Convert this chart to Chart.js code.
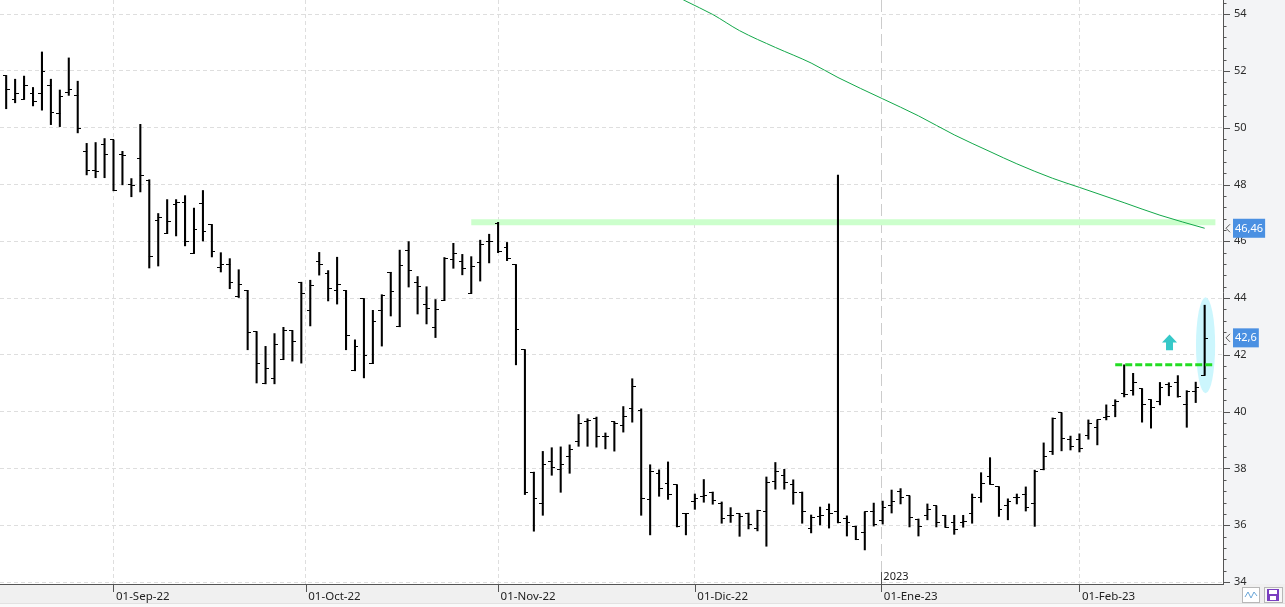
<!DOCTYPE html>
<html>
<head>
<meta charset="utf-8">
<title>Cotización diaria</title>
<script src="https://cdn.jsdelivr.net/npm/chart.js@4.4.1/dist/chart.umd.min.js"></script>
<style>
    html, body { margin: 0; padding: 0; background: #fff; overflow: hidden; }
    #wrap { width: 1285px; height: 607px; }
</style>
</head>
<body>
<div id="wrap"><canvas id="myChart" width="1285" height="607"></canvas></div>
<script>
// one entry per trading session (index 0 = mid Aug 22 ... 134 = 21 Feb 23)
var openP = [
    51.84, 50.99, 51.00, 51.21, 51.21, 51.49, 50.51, 51.25, 51.14, 49.17,
    48.50, 49.41, 49.57, 49.06, 48.00, 48.92, 48.13, 46.73, 46.27, 47.30,
    47.37, 45.57, 47.33, 46.59, 45.07, 45.18, 44.04, 44.27, 42.82, 40.98,
    41.16, 41.83, 42.86, 44.56, 43.57, 45.29, 44.85, 44.27, 44.27, 41.44,
    43.98, 41.69, 43.57, 44.91, 42.99, 45.69, 44.55, 43.77, 42.96, 43.91,
    45.36, 45.29, 44.16, 45.25, 45.99, 46.63, 45.78, 45.18, 42.18, 37.87,
    36.75, 38.23, 37.98, 38.41, 38.94, 39.65, 39.75, 39.11, 39.64, 39.50,
    40.10, 40.03, 36.89, 37.81, 37.46, 37.42, 36.40, 36.83, 37.01, 37.14,
    36.75, 36.33, 36.40, 36.43, 35.87, 36.50, 37.53, 37.75, 37.42, 37.17,
    35.87, 36.29, 36.54, 36.47, 36.22, 35.97, 35.73, 36.50, 36.15, 36.71,
    37.18, 37.03, 36.19, 36.36, 36.68, 36.35, 36.11, 36.11, 36.40, 36.98,
    37.70, 37.35, 36.68, 36.96, 37.10, 36.78, 37.95, 38.58, 39.96, 39.01,
    39.01, 39.15, 39.43, 39.78, 40.21, 40.63, 40.74, 40.81, 40.42, 40.35,
    40.96, 41.01, 40.24, 40.71, 41.28
];
var highP = [
    51.84, 51.71, 51.82, 51.42, 52.67, 51.71, 51.33, 52.46, 51.64, 49.45,
    49.48, 49.62, 49.57, 49.17, 48.21, 50.12, 48.17, 46.98, 47.47, 47.47,
    47.61, 47.17, 47.79, 46.59, 45.60, 45.39, 45.00, 44.27, 42.82, 42.30,
    42.75, 42.97, 42.86, 44.56, 44.63, 45.61, 44.97, 45.44, 44.27, 42.53,
    43.98, 43.57, 44.12, 44.91, 45.69, 45.99, 44.76, 44.40, 43.95, 45.43,
    45.93, 45.54, 45.46, 46.04, 46.25, 46.67, 45.96, 45.18, 42.18, 37.87,
    38.60, 38.73, 38.76, 38.83, 39.90, 39.75, 39.81, 39.25, 39.64, 40.18,
    41.16, 40.10, 38.13, 37.95, 38.23, 37.42, 36.40, 37.10, 37.61, 37.17,
    36.82, 36.62, 36.40, 36.43, 36.53, 37.70, 38.21, 37.97, 37.60, 37.17,
    36.36, 36.64, 36.75, 48.33, 36.33, 35.97, 36.47, 36.78, 36.85, 37.24,
    37.29, 37.03, 36.22, 36.75, 36.68, 36.35, 36.35, 36.35, 37.10, 37.85,
    38.38, 37.35, 36.93, 37.10, 37.35, 37.94, 38.90, 39.78, 39.96, 39.14,
    39.22, 39.71, 39.71, 40.24, 40.42, 41.65, 41.35, 40.81, 40.42, 41.03,
    41.02, 41.27, 40.74, 41.04, 43.75
];
var lowP = [
    50.67, 50.88, 51.00, 50.77, 50.62, 50.11, 50.04, 51.14, 49.82, 48.34,
    48.24, 48.24, 47.78, 47.99, 47.57, 47.74, 45.06, 45.13, 46.27, 46.19,
    45.84, 45.57, 46.01, 45.45, 44.92, 44.33, 44.02, 42.18, 41.01, 40.98,
    40.98, 41.83, 41.78, 41.71, 43.02, 44.81, 43.90, 43.79, 42.18, 41.44,
    41.19, 41.69, 42.31, 43.37, 42.99, 44.39, 43.44, 43.09, 42.61, 43.91,
    45.05, 44.82, 44.16, 44.60, 45.24, 45.60, 45.32, 41.65, 37.08, 35.79,
    36.35, 37.76, 37.16, 37.83, 38.78, 38.78, 38.75, 38.69, 38.61, 39.28,
    39.63, 36.35, 35.66, 37.02, 36.91, 35.94, 35.66, 36.56, 36.81, 36.74,
    36.07, 36.10, 35.61, 35.87, 35.80, 35.26, 37.27, 37.27, 36.74, 36.07,
    35.73, 36.01, 35.90, 36.08, 35.62, 35.49, 35.13, 35.97, 36.04, 36.43,
    36.75, 35.94, 35.62, 36.19, 35.94, 35.93, 35.68, 35.93, 36.07, 36.81,
    37.44, 36.31, 36.19, 36.75, 36.50, 35.96, 37.95, 38.49, 38.62, 38.65,
    38.58, 39.03, 38.83, 39.71, 39.82, 40.52, 40.58, 39.63, 39.42, 40.24,
    40.56, 40.51, 39.45, 40.32, 41.28
];
var closeP = [
    51.35, 51.21, 51.49, 50.93, 51.99, 50.55, 51.11, 51.35, 49.97, 48.50,
    48.46, 49.06, 47.78, 49.02, 47.97, 48.32, 45.46, 46.84, 46.70, 47.37,
    45.99, 46.41, 46.34, 45.64, 45.18, 44.55, 44.49, 42.78, 41.69, 41.51,
    42.36, 42.85, 42.46, 44.16, 44.44, 45.18, 44.33, 44.47, 42.68, 42.30,
    41.97, 43.17, 44.09, 44.24, 45.14, 44.97, 44.40, 43.63, 43.59, 45.39,
    45.57, 45.04, 45.11, 45.89, 45.99, 45.64, 45.39, 42.89, 37.16, 36.93,
    38.13, 38.05, 38.13, 38.65, 39.57, 39.69, 39.12, 39.11, 39.57, 39.82,
    40.88, 36.93, 37.91, 37.31, 37.07, 35.94, 36.40, 36.95, 37.04, 36.86,
    36.22, 36.33, 36.29, 36.04, 36.53, 37.49, 37.91, 37.49, 37.17, 36.47,
    36.26, 36.33, 36.43, 36.08, 36.08, 35.51, 36.47, 36.04, 36.64, 36.85,
    36.98, 36.26, 35.95, 36.57, 36.08, 35.93, 35.86, 36.14, 36.98, 37.46,
    37.44, 36.54, 36.82, 36.96, 36.61, 37.90, 38.43, 39.76, 39.04, 38.76,
    38.72, 39.57, 39.71, 39.83, 40.35, 40.60, 41.01, 40.26, 40.14, 40.86,
    40.90, 40.52, 40.72, 40.86, 42.59
];

// slow moving average, read at some sessions
var maIndex = [74, 76, 79, 82, 86, 90, 93, 98, 102, 106, 110, 113, 117, 120, 125, 129, 134];
var maValues = [54.80, 54.46, 53.99, 53.42, 52.83, 52.28, 51.77, 51.02, 50.42, 49.75, 49.16, 48.73, 48.22, 47.90, 47.36, 46.92, 46.46];

// axis ticks
var monthTicks = [12, 33.5, 55, 77, 97.85, 120];
var monthLabels = ['01-Sep-22', '01-Oct-22', '01-Nov-22', '01-Dic-22', '01-Ene-23', '01-Feb-23'];
var yearTick = 97.85;
var yearLabel = '2023';
var yTicks = [34, 36, 38, 40, 42, 44, 46, 48, 50, 52, 54];

// drawn studies
var resistance = 46.67;
var resistanceRange = [52, 135.2];
var breakout = 41.65;
var breakoutRange = [124, 135.05];
var arrowIndex = 130.07;
var arrowRange = [42.16, 42.72];
var circleIndex = [133.03, 135.17];
var circleRange = [40.65, 44.03];
var lastClose = 42.6;
var lastMa = 46.46;

function makeTick(side) {
    var c = document.createElement('canvas');
    c.width = 7;
    c.height = 1;
    var g = c.getContext('2d');
    g.fillStyle = '#000';
    if (side === 'left') {
        g.fillRect(0, 0, 4, 1);
    } else {
        g.fillRect(3, 0, 4, 1);
    }
    return c;
}

var hlData = [], openData = [], closeData = [], maData = [];
for (var i = 0; i < openP.length; i++) {
    hlData.push({x: i, y: [lowP[i], highP[i]]});
    openData.push({x: i, y: openP[i]});
    closeData.push({x: i, y: closeP[i]});
}
for (var j = 0; j < maIndex.length; j++) {
    maData.push({x: maIndex[j], y: maValues[j]});
}

var FONT = 'Noto Sans';
Chart.defaults.font.family = FONT;

var backPlugin = {
    id: 'back',
    beforeDraw: function(chart) {
        var ctx = chart.ctx, a = chart.chartArea;
        ctx.save();
        ctx.fillStyle = '#ffffff';
        ctx.fillRect(0, 0, chart.width, chart.height);
        ctx.fillStyle = '#f3f4f6';
        ctx.fillRect(a.right, 0, chart.width - a.right, a.bottom);
        ctx.fillStyle = '#f0f0f0';
        ctx.fillRect(0, a.bottom, chart.width, chart.height - a.bottom);
        ctx.fillStyle = '#fafafa';
        ctx.fillRect(0, 603, chart.width, 4);
        ctx.fillStyle = '#e2e2e2';
        ctx.fillRect(0, 603, chart.width, 1);
        ctx.restore();
    },
    beforeDatasetsDraw: function(chart) {
        var ctx = chart.ctx, x = chart.scales.x, y = chart.scales.y;
        var x1 = x.getPixelForValue(circleIndex[0]), x2 = x.getPixelForValue(circleIndex[1]);
        var y1 = y.getPixelForValue(circleRange[1]), y2 = y.getPixelForValue(circleRange[0]);
        ctx.save();
        ctx.fillStyle = '#ccf6fd';
        ctx.beginPath();
        ctx.ellipse((x1 + x2) / 2, (y1 + y2) / 2, (x2 - x1) / 2, (y2 - y1) / 2, 0, 0, Math.PI * 2);
        ctx.fill();
        ctx.restore();
    },
    afterDatasetsDraw: function(chart) {
        var ctx = chart.ctx, x = chart.scales.x, y = chart.scales.y;
        var cx = x.getPixelForValue(arrowIndex);
        var top = y.getPixelForValue(arrowRange[1]);
        var bottom = y.getPixelForValue(arrowRange[0]);
        var mid = (top + bottom) / 2;
        ctx.save();
        ctx.fillStyle = '#36c8c8';
        ctx.beginPath();
        ctx.moveTo(cx, top);
        ctx.lineTo(cx + 7.5, mid);
        ctx.lineTo(cx + 3.5, mid);
        ctx.lineTo(cx + 3.5, bottom);
        ctx.lineTo(cx - 3.5, bottom);
        ctx.lineTo(cx - 3.5, mid);
        ctx.lineTo(cx - 7.5, mid);
        ctx.closePath();
        ctx.fill();
        ctx.restore();
    },
    afterDraw: function(chart) {
        var ctx = chart.ctx, a = chart.chartArea, x = chart.scales.x, y = chart.scales.y;
        ctx.save();
        // hide what falls below the plot in the price column
        ctx.fillStyle = '#f0f0f0';
        ctx.fillRect(a.right + 1, a.bottom + 1, chart.width - a.right, 602 - a.bottom);

        ctx.strokeStyle = '#555';
        ctx.lineWidth = 1;
        ctx.beginPath();
        for (var k = 0; k <= 51; k++) {
            var v = 34 + k * 0.4;
            var py = Math.round(y.getPixelForValue(v)) + 0.5;
            if (py > a.bottom) continue;
            var len = (k % 5 === 0) ? 7 : 3.5;
            ctx.moveTo(a.right, py);
            ctx.lineTo(a.right + len, py);
        }
        for (var m = 0; m < monthTicks.length; m++) {
            var px = Math.round(x.getPixelForValue(monthTicks[m])) + 0.5;
            var from = monthTicks[m] === yearTick ? a.bottom - 12 : a.bottom;
            ctx.moveTo(px, from);
            ctx.lineTo(px, a.bottom + 8);
        }
        ctx.stroke();

        ctx.fillStyle = '#222';
        ctx.font = '11px "' + FONT + '"';
        ctx.textBaseline = 'bottom';
        ctx.textAlign = 'left';
        ctx.fillText(yearLabel, x.getPixelForValue(yearTick) + 2, a.bottom - 2);

        priceBox(chart, lastMa, '46,46');
        priceBox(chart, lastClose, '42,6');

        // small buttons bottom right
        ctx.fillStyle = '#ffffff';
        ctx.strokeStyle = '#b8b8b8';
        ctx.fillRect(1242, 587, 17, 15);
        ctx.strokeRect(1242.5, 587.5, 17, 15);
        ctx.strokeStyle = '#6aa6d8';
        ctx.beginPath();
        ctx.moveTo(1245, 597); ctx.lineTo(1248, 592); ctx.lineTo(1251, 598); ctx.lineTo(1254, 592); ctx.lineTo(1257, 596);
        ctx.stroke();
        ctx.fillStyle = '#f7f7f7';
        ctx.strokeStyle = '#b8b8b8';
        ctx.fillRect(1264, 587, 18, 15);
        ctx.strokeRect(1264.5, 587.5, 18, 15);
        ctx.fillStyle = '#7a3fc0';
        ctx.fillRect(1267, 589, 12, 12);
        ctx.fillStyle = '#ffffff';
        ctx.fillRect(1269, 590, 8, 4);
        ctx.fillRect(1270, 596, 6, 4);
        ctx.restore();
    }
};

function priceBox(chart, value, text) {
    var ctx = chart.ctx, a = chart.chartArea;
    var py = chart.scales.y.getPixelForValue(value);
    ctx.font = '11px "' + FONT + '"';
    var w = ctx.measureText(text).width + 4;
    ctx.strokeStyle = '#555';
    ctx.beginPath();
    ctx.moveTo(a.right + 7, py - 4);
    ctx.lineTo(a.right + 3, py);
    ctx.lineTo(a.right + 7, py + 4);
    ctx.stroke();
    ctx.fillStyle = '#4a90e2';
    ctx.fillRect(a.right + 10, py - 9.5, w, 19);
    ctx.fillStyle = '#ffffff';
    ctx.textAlign = 'left';
    ctx.textBaseline = 'middle';
    ctx.fillText(text, a.right + 12, py + 0.5);
}

function noPadding(scale) {
    scale.paddingTop = 0;
    scale.paddingBottom = 0;
    scale.paddingLeft = 0;
    scale.paddingRight = 0;
}

var ctx = document.getElementById('myChart').getContext('2d');
var myChart = new Chart(ctx, {
    type: 'bar',
    data: {
        datasets: [{
            type: 'line',
            label: 'Stop',
            data: [{x: breakoutRange[0], y: breakout}, {x: breakoutRange[1], y: breakout}],
            borderColor: '#22dd22',
            borderWidth: 3,
            borderDash: [7, 3],
            pointRadius: 0,
            order: 1
        }, {
            type: 'line',
            label: 'Media',
            data: maData,
            borderColor: '#13a84a',
            borderWidth: 1,
            pointRadius: 0,
            cubicInterpolationMode: 'monotone',
            order: 2
        }, {
            type: 'scatter',
            label: 'Cierre',
            data: closeData,
            pointStyle: makeTick('right'),
            pointRadius: 3,
            order: 3
        }, {
            type: 'scatter',
            label: 'Apertura',
            data: openData,
            pointStyle: makeTick('left'),
            pointRadius: 3,
            order: 4
        }, {
            type: 'bar',
            label: 'Rango',
            data: hlData,
            backgroundColor: '#000000',
            borderWidth: 0,
            barThickness: 1.4,
            order: 5
        }, {
            type: 'line',
            label: 'Resistencia',
            data: [{x: resistanceRange[0], y: resistance}, {x: resistanceRange[1], y: resistance}],
            borderColor: '#ccffcc',
            borderWidth: 6,
            pointRadius: 0,
            order: 10
        }]
    },
    options: {
        responsive: false,
        animation: false,
        events: [],
        layout: { padding: 0, autoPadding: false },
        plugins: {
            legend: { display: false },
            tooltip: { enabled: false }
        },
        scales: {
            x: {
                type: 'linear',
                min: -0.69,
                max: 136.05,
                offset: false,
                afterBuildTicks: function(scale) {
                    scale.ticks = monthTicks.map(function(v) { return {value: v}; });
                },
                afterFit: function(scale) {
                    scale.height = 23;
                    noPadding(scale);
                },
                ticks: {
                    autoSkip: false,
                    maxRotation: 0,
                    align: 'start',
                    labelOffset: 2.5,
                    padding: 6,
                    color: '#222',
                    font: { size: 11.5 },
                    callback: function(value, index) { return monthLabels[index]; }
                },
                grid: {
                    offset: false,
                    drawTicks: false,
                    color: function(c) { return c.tick && c.tick.value === yearTick ? '#cccccc' : '#dedede'; }
                },
                border: {
                    color: '#555',
                    dash: function(c) { return c.tick && c.tick.value === yearTick ? [12, 5] : [4, 3]; }
                }
            },
            y: {
                type: 'linear',
                position: 'right',
                min: 33.93,
                max: 54.5,
                beginAtZero: false,
                afterBuildTicks: function(scale) {
                    scale.ticks = yTicks.map(function(v) { return {value: v}; });
                },
                afterFit: function(scale) {
                    scale.width = 62;
                    noPadding(scale);
                },
                ticks: {
                    padding: 11,
                    color: '#2b2b2b',
                    font: { size: 11 },
                    callback: function(value) { return String(value); }
                },
                grid: {
                    drawTicks: false,
                    color: '#dedede'
                },
                border: {
                    color: '#555',
                    dash: [4, 3]
                }
            }
        }
    },
    plugins: [backPlugin]
});
</script>
</body>
</html>
